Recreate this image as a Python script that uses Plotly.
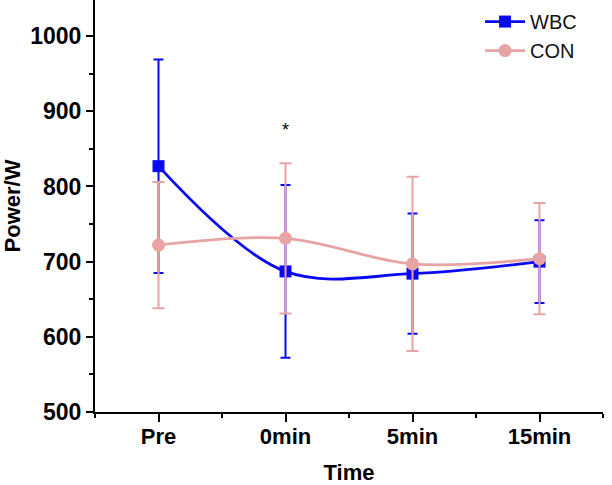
import plotly.graph_objects as go

categories = ["Pre", "0min", "5min", "15min"]
wbc_mean = [827, 687, 684, 700]
wbc_sd = [142, 115, 80, 55]
con_mean = [722, 731, 697, 704]
con_sd = [84, 100, 116, 74]
y_ticks = [500, 600, 700, 800, 900, 1000]

x_idx = list(range(len(categories)))
BLUE = "#0a0af0"
PINK = "#e8a4a4"
FONT = "Liberation Sans, Arial, sans-serif"

fig = go.Figure()
fig.add_trace(go.Scatter(
    x=x_idx, y=wbc_mean, name="WBC", mode="lines+markers",
    line=dict(color=BLUE, width=2.8, shape="spline", smoothing=1.0),
    marker=dict(symbol="square", size=12, color=BLUE),
    error_y=dict(type="data", array=wbc_sd, color=BLUE, thickness=2, width=5),
))
fig.add_trace(go.Scatter(
    x=x_idx, y=con_mean, name="CON", mode="lines+markers",
    line=dict(color=PINK, width=2.8, shape="spline", smoothing=1.0),
    marker=dict(symbol="circle", size=13, color=PINK),
    error_y=dict(type="data", array=con_sd, color=PINK, thickness=2, width=6),
))

fig.add_annotation(x=1, y=875, text="*", showarrow=False,
                   font=dict(family=FONT, size=18, color="black"))

fig.update_layout(
    width=612, height=485,
    margin=dict(l=95, r=9, t=0, b=73),
    paper_bgcolor="white", plot_bgcolor="white",
    showlegend=True,
    legend=dict(x=0.758, y=0.995, xanchor="left", yanchor="top",
                font=dict(family=FONT, size=20, color="#111"),
                bgcolor="rgba(0,0,0,0)", tracegroupgap=0, itemwidth=40),
    font=dict(family=FONT, color="black"),
)
fig.update_xaxes(
    range=[-0.5, 3.5], tickvals=x_idx, ticktext=categories,
    showline=True, linecolor="black", linewidth=2, mirror=False,
    ticks="outside", ticklen=8, tickwidth=2, tickcolor="black",
    minor=dict(tickvals=[-0.5, 0.5, 1.5, 2.5, 3.5], ticks="outside", ticklen=4, tickwidth=2, tickcolor="black"),
    showgrid=False, zeroline=False, automargin=False, ticklabelstandoff=-4,
    tickfont=dict(family=FONT, size=22, color="black", weight="bold"),
    title=dict(text="<b>Time</b>", font=dict(family=FONT, size=22, color="black"), standoff=24),
)
fig.update_yaxes(
    range=[500, 1048], tickvals=y_ticks,
    showline=True, linecolor="black", linewidth=2, mirror=False,
    ticks="outside", ticklen=7, tickwidth=2, tickcolor="black",
    minor=dict(dtick=50, tick0=550, ticks="outside", ticklen=4, tickwidth=2, tickcolor="black"),
    showgrid=False, zeroline=False, automargin=False,
    tickfont=dict(family=FONT, size=23, color="black", weight="bold"),
    title=dict(text="<b>Power/W</b>", font=dict(family=FONT, size=22, color="black"), standoff=8),
)

fig.write_html("out.html", config={"displayModeBar": False},
               post_script="document.body.style.margin='0';document.body.style.overflow='hidden';")
